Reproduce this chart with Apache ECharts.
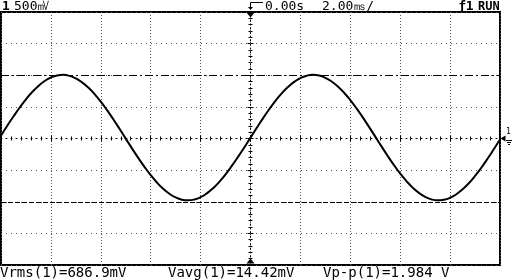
<!DOCTYPE html>
<html><head><meta charset="utf-8">
<script src="https://cdn.jsdelivr.net/npm/echarts@6/dist/echarts.min.js"></script>
<style>html,body{margin:0;padding:0;background:#fff}#c{width:512px;height:280px}</style>
</head><body><div id="c"></div>
<script>
// time in ms (trigger at 0), 2 ms/div, 10 divisions
const times = [
 -10,-9.75,-9.5,-9.25,-9,-8.75,-8.5,-8.25,-8,-7.75,-7.5,-7.25,-7,-6.75,-6.5,-6.25,-6,-5.75,-5.5,-5.25,
 -5,-4.75,-4.5,-4.25,-4,-3.75,-3.5,-3.25,-3,-2.75,-2.5,-2.25,-2,-1.75,-1.5,-1.25,-1,-0.75,-0.5,-0.25,
 0,0.25,0.5,0.75,1,1.25,1.5,1.75,2,2.25,2.5,2.75,3,3.25,3.5,3.75,4,4.25,4.5,4.75,
 5,5.25,5.5,5.75,6,6.25,6.5,6.75,7,7.25,7.5,7.75,8,8.25,8.5,8.75,9,9.25,9.5,9.75,10
];
// channel 1 voltage (V), 500 mV/div
const volts = [
 0.045,0.201,0.349,0.490,0.620,0.735,0.832,0.909,0.965,0.997,1.006,0.990,0.950,0.888,0.805,0.701,0.582,0.448,0.304,0.153,
 -0.002,-0.156,-0.306,-0.448,-0.579,-0.696,-0.795,-0.874,-0.932,-0.967,-0.978,-0.965,-0.928,-0.867,-0.786,-0.685,-0.567,-0.434,-0.291,-0.141,
 0.014,0.168,0.319,0.462,0.595,0.713,0.814,0.895,0.956,0.993,1.006,0.995,0.960,0.902,0.823,0.724,0.607,0.476,0.334,0.184,
 0.030,-0.125,-0.276,-0.420,-0.554,-0.673,-0.777,-0.860,-0.922,-0.962,-0.978,-0.969,-0.937,-0.881,-0.804,-0.707,-0.592,-0.462,-0.321,-0.171,-0.017
];
const cursorUpper = 1.0;
const cursorLower = -1.01;
const chLabel = '1';
const scaleLabel = '500㎷';
const delayLabel = '0.00s';
const timebaseLabel = '2.00㎳/';
const trigLabel = 'ƒ1';
const runLabel = 'RUN';
const measurements = ['Vrms(1)=686.9mV', 'Vavg(1)=14.42mV', 'Vp-p(1)=1.984 V'];

const MONO = '"DejaVu Sans Mono", monospace';
const chart = echarts.init(document.getElementById('c'), null, {renderer: 'canvas'});
const pts = times.map((t, i) => [t, volts[i]]);

const centerX = (pos, inside) => ({
  type: 'value', gridIndex: 0, min: -10, max: 10, interval: 2, position: pos,
  axisLine: {show: pos === 'bottom', onZero: true, onZeroAxisIndex: 0, lineStyle: {color: '#000', width: 1, type: [1, 4]}},
  axisTick: {show: true, inside: inside, length: 3, lineStyle: {color: '#000', width: 1}},
  minorTick: {show: true, splitNumber: 5, length: 2, lineStyle: {color: '#000', width: 1}},
  axisLabel: {show: false}, splitLine: {show: false}
});
const centerY = (pos, inside) => ({
  type: 'value', gridIndex: 0, min: -2, max: 2, interval: 0.5, position: pos,
  axisLine: {show: pos === 'left', onZero: true, onZeroAxisIndex: 0, lineStyle: {color: '#000', width: 1, type: [1, 3]}},
  axisTick: {show: true, inside: inside, length: 3, lineStyle: {color: '#000', width: 1}},
  minorTick: {show: true, splitNumber: 5, length: 2, lineStyle: {color: '#000', width: 1}},
  axisLabel: {show: false}, splitLine: {show: false}
});

chart.setOption({
  animation: false,
  backgroundColor: '#fff',
  grid: {left: 1, top: 12, width: 499, height: 253, show: true, borderColor: '#000', borderWidth: 2, backgroundColor: 'transparent'},
  xAxis: [
    {type: 'value', min: -10, max: 10, interval: 2,
     axisLine: {show: false, onZero: false}, axisTick: {show: false}, axisLabel: {show: false},
     splitLine: {show: true, lineStyle: {color: '#555', width: 1, type: [1, 2]}}},
    centerX('bottom', false), centerX('top', false)
  ],
  yAxis: [
    {type: 'value', min: -2, max: 2, interval: 0.5,
     axisLine: {show: false, onZero: false}, axisTick: {show: false}, axisLabel: {show: false},
     splitLine: {show: true, lineStyle: {color: '#555', width: 1, type: [1, 4]}}},
    centerY('left', false), centerY('right', false)
  ],
  series: [{
    type: 'line', xAxisIndex: 0, yAxisIndex: 0, data: pts, smooth: true, showSymbol: false,
    lineStyle: {color: '#000', width: 2}, silent: true,
    markLine: {
      silent: true, symbol: 'none', label: {show: false},
      data: [
        {yAxis: cursorUpper, lineStyle: {color: '#000', width: 1, type: [8, 3, 2, 3]}},
        {yAxis: cursorLower, lineStyle: {color: '#000', width: 1, type: [5, 2]}}
      ]
    },
    markPoint: {
      silent: true, label: {show: false},
      data: [
        {coord: [0, 2], symbol: 'triangle', symbolRotate: 180, symbolSize: [8, 5], symbolOffset: [0, 3], itemStyle: {color: '#000'}},
        {coord: [0, -2], symbol: 'triangle', symbolSize: [8, 5], symbolOffset: [0, -4], itemStyle: {color: '#000'}},
        {coord: [10, 0], symbol: 'triangle', symbolRotate: 90, symbolSize: [6, 5], symbolOffset: [3, 0], itemStyle: {color: '#000'}}
      ]
    }
  }],
  graphic: [
    {type: 'text', left: 2, top: 0, style: {text: chLabel, font: 'bold 13px ' + MONO, fill: '#000'}},
    {type: 'text', left: 14, top: 0, style: {text: scaleLabel, font: '13px ' + MONO, fill: '#000'}},
    {type: 'polyline', shape: {points: [[263, 2.5], [250.5, 2.5], [250.5, 8]]}, style: {stroke: '#000', lineWidth: 1, fill: null}},
    {type: 'polygon', shape: {points: [[248, 7], [253, 7], [250.5, 10]]}, style: {fill: '#000'}},
    {type: 'text', left: 265, top: 0, style: {text: delayLabel, font: '13px ' + MONO, fill: '#000'}},
    {type: 'text', left: 322, top: 0, style: {text: timebaseLabel, font: '13px ' + MONO, fill: '#000'}},
    {type: 'text', left: 458, top: 0, style: {text: trigLabel, font: 'bold 13px ' + MONO, fill: '#000'}},
    {type: 'text', left: 478, top: 1, style: {text: runLabel, font: 'bold 12px ' + MONO, fill: '#000'}},
    {type: 'text', left: 506, top: 128, style: {text: chLabel, font: '8px ' + MONO, fill: '#000'}},
    {type: 'line', shape: {x1: 506, y1: 140.5, x2: 512, y2: 140.5}, style: {stroke: '#000', lineWidth: 1}},
    {type: 'line', shape: {x1: 507, y1: 142.5, x2: 511, y2: 142.5}, style: {stroke: '#000', lineWidth: 1}},
    {type: 'line', shape: {x1: 508, y1: 144.5, x2: 510, y2: 144.5}, style: {stroke: '#000', lineWidth: 1}},
    {type: 'text', left: 0, top: 266, style: {text: measurements[0], font: '14px ' + MONO, fill: '#000'}},
    {type: 'text', left: 168, top: 266, style: {text: measurements[1], font: '14px ' + MONO, fill: '#000'}},
    {type: 'text', left: 323, top: 266, style: {text: measurements[2], font: '14px ' + MONO, fill: '#000'}}
  ]
});
</script></body></html>
